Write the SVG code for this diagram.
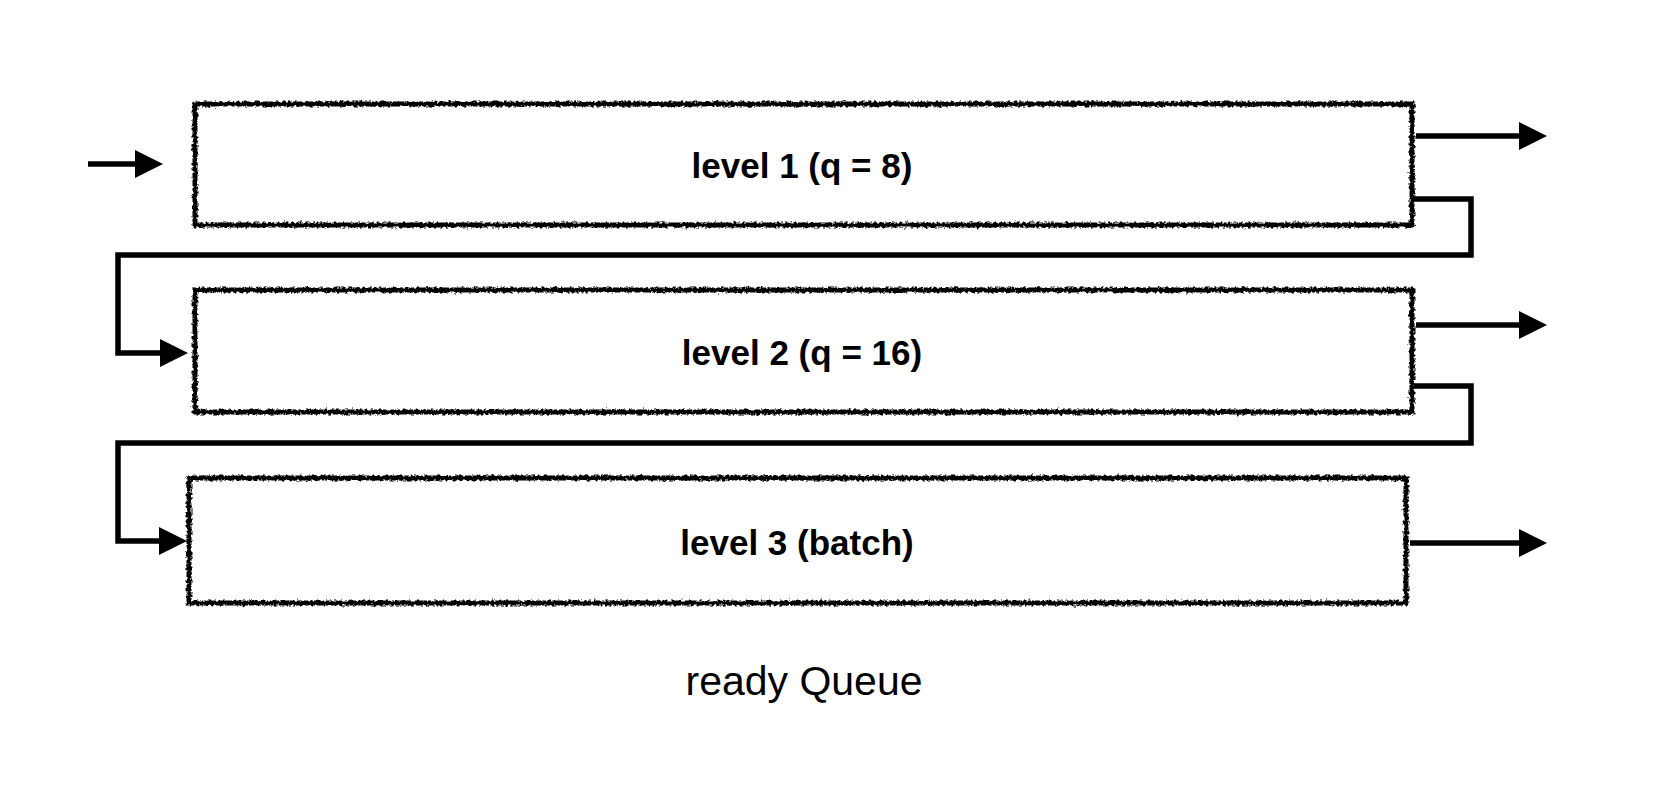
<svg xmlns="http://www.w3.org/2000/svg" width="1660" height="810" viewBox="0 0 1660 810">
<style>
.box{fill:#fff;stroke:#000;stroke-width:5;filter:url(#rough)}
.lbl{font-family:"Liberation Sans",Arial,sans-serif;font-weight:bold;font-size:35px;fill:#000;text-anchor:middle}
.cap{font-family:"Liberation Sans",Arial,sans-serif;font-size:40px;fill:#000;text-anchor:middle}
.con{fill:none;stroke:#000;stroke-width:5.5;stroke-linejoin:miter}
</style>
<defs>
<filter id="rough" x="-2%" y="-10%" width="104%" height="120%">
<feTurbulence type="fractalNoise" baseFrequency="0.35" numOctaves="2" seed="7" result="n"/>
<feDisplacementMap in="SourceGraphic" in2="n" scale="5" xChannelSelector="R" yChannelSelector="G"/>
</filter>
<marker id="ah" markerUnits="userSpaceOnUse" markerWidth="28" markerHeight="28" refX="0" refY="14" orient="auto" viewBox="0 0 28 28">
<path d="M0,0 L28,14 L0,28 Z" fill="#000"/>
</marker>
</defs>
<rect width="1660" height="810" fill="#fff"/>
<g id="level1">
<rect class="box" x="195" y="104" width="1217" height="121"/>
<text class="lbl" x="802" y="178">level 1 (q = 8)</text>
</g>
<g id="level2">
<rect class="box" x="195" y="290" width="1217" height="122"/>
<text class="lbl" x="802" y="365">level 2 (q = 16)</text>
</g>
<g id="level3">
<rect class="box" x="189" y="478" width="1217" height="125"/>
<text class="lbl" x="797" y="555">level 3 (batch)</text>
</g>
<g id="caption">
<text class="cap" x="804" y="695" textLength="237" lengthAdjust="spacingAndGlyphs">ready Queue</text>
</g>
<g id="connectors">
<path class="con" d="M88,164 H135" marker-end="url(#ah)"/>
<path class="con" d="M1416,136 H1519" marker-end="url(#ah)"/>
<path class="con" d="M1416,325 H1519" marker-end="url(#ah)"/>
<path class="con" d="M1410,543 H1519" marker-end="url(#ah)"/>
<path class="con" d="M1414,199 H1471 V255 H118 V353 H160" marker-end="url(#ah)"/>
<path class="con" d="M1414,386 H1471 V443 H118 V541 H159" marker-end="url(#ah)"/>
</g>
</svg>
